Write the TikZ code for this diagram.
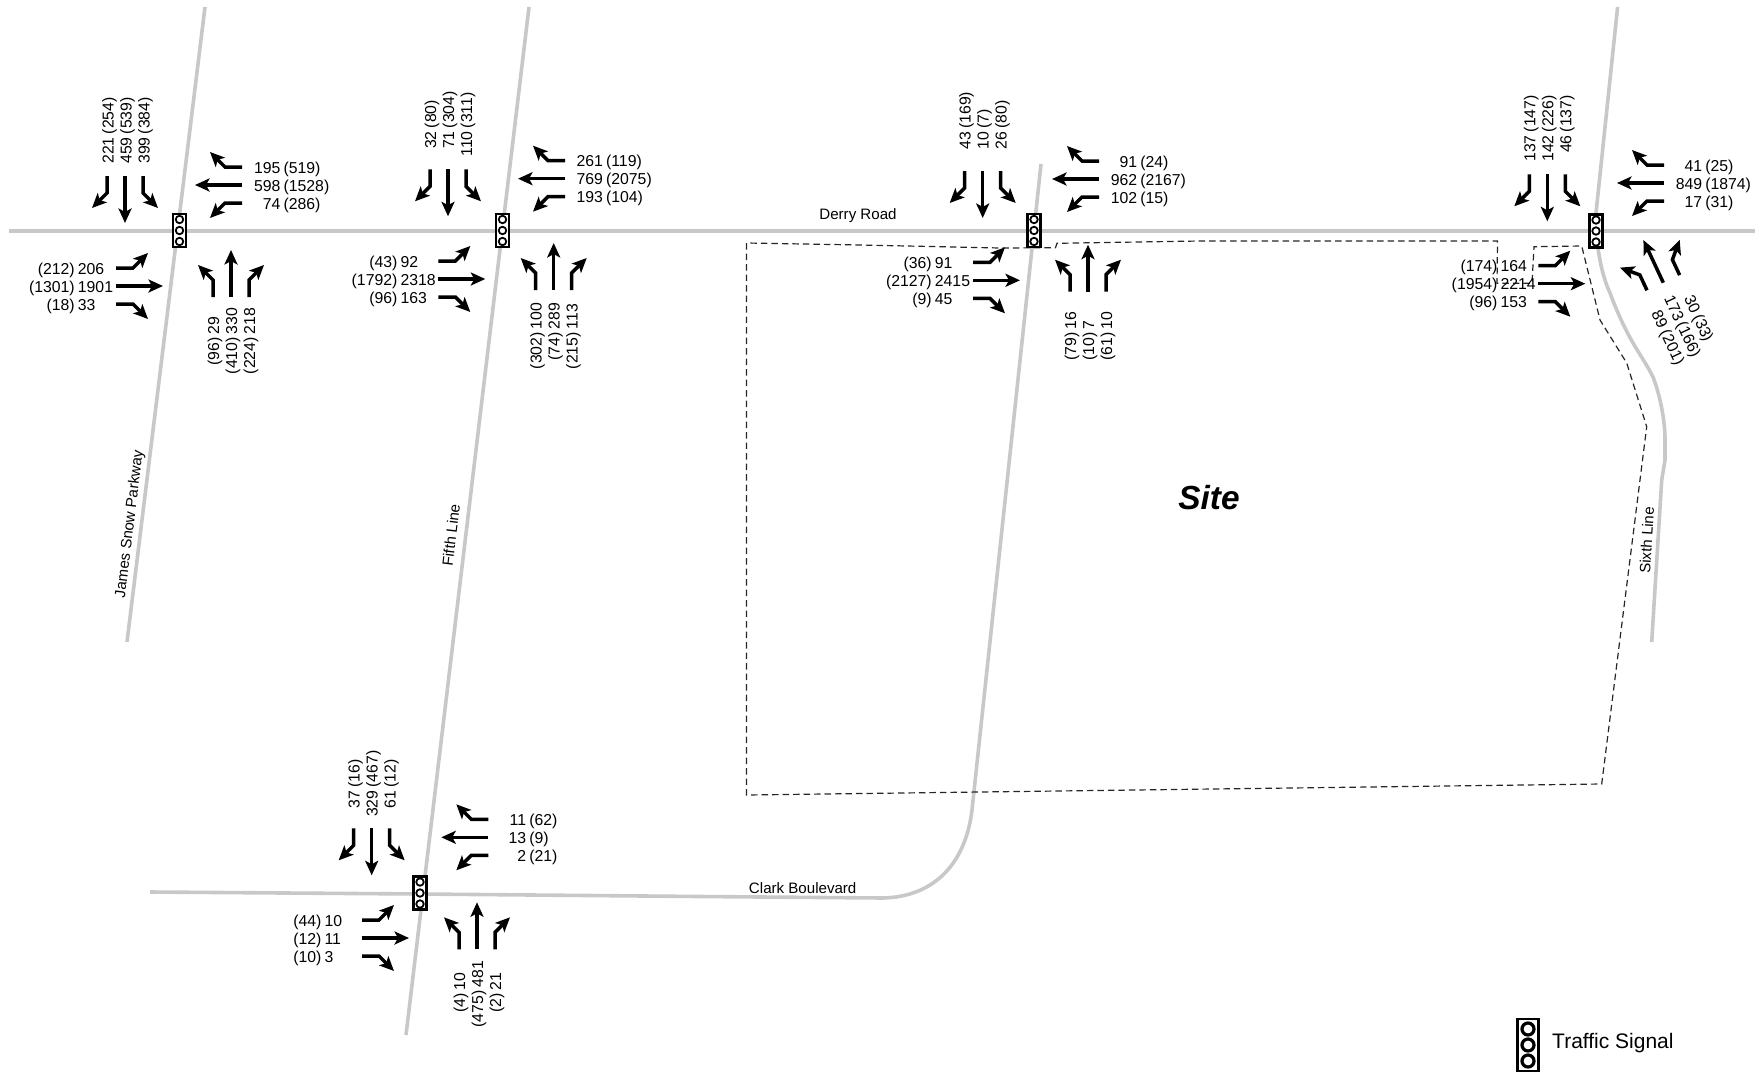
\documentclass[tikz,border=0pt]{standalone}
\usepackage{fontspec}
\setmainfont{Liberation Sans}
\usetikzlibrary{arrows.meta}
\definecolor{roadgray}{RGB}{200,200,200}
\tikzset{
  road/.style={draw=roadgray,line width=3.6pt,line join=round},
  site/.style={draw=black!85,line width=1.2pt,dash pattern=on 6.5pt off 4pt},
  mv/.style={draw=black,line width=3.5pt,line join=miter,-{Stealth[length=14.5pt,width=13pt,inset=3.5pt]}},
  vol/.style={inner sep=0pt,outer sep=0pt,font=\fontsize{15.8}{18}\selectfont},
  rdlabel/.style={inner sep=0pt,font=\fontsize{15.1}{18}\selectfont},
  sigbox/.style={draw=black,fill=white,line width=2.4pt,minimum width=13pt,minimum height=33pt,inner sep=0pt},
  siglamp/.style={circle,draw=black,fill=white,line width=1.8pt,minimum size=7.5pt,inner sep=0pt},
  legbox/.style={draw=black,fill=white,line width=2.6pt,minimum width=21pt,minimum height=52pt,inner sep=0pt},
  leglamp/.style={circle,draw=black,fill=white,line width=3.2pt,minimum size=12pt,inner sep=0pt},
}
\newcounter{labn}
\newcommand\trio[3]{%
  \begin{scope}[shift={(#1,-#2)},rotate=#3]
    \draw[mv] (0,0) -- (0,47);
    \draw[mv] (-18,0) -- (-18,17) -- (-33,32);
    \draw[mv] (18,0) -- (18,17) -- (33,32);
  \end{scope}}
\newcommand\lab[5]{%
  \stepcounter{labn}%
  \begin{scope}[shift={(#1,-#2)},rotate=#3]
    \node[vol,rotate=#3,anchor=base east] (la\thelabn) at (-1.6,-6) {#4};
    \node[vol,rotate=#3,anchor=base west] (lb\thelabn) at (1.6,-6) {#5};
  \end{scope}}
\newcommand\signal[3]{%
  \node[sigbox] (#1) at (#2,-#3) {};
  \node[siglamp] (#1a) at (#2,-#3+11) {};
  \node[siglamp] (#1b) at (#2,-#3) {};
  \node[siglamp] (#1c) at (#2,-#3-11) {};}
\begin{document}
\begin{tikzpicture}[x=1pt,y=1pt]
\useasboundingbox (0,0) rectangle (1759,-1073);
% roads
\draw[road] (9,-231) -- (1755,-231);
\draw[road] (205,-7) -- (127,-642);
\draw[road] (529,-7) -- (406,-1035);
\draw[road] (150,-892) -- (420,-894) -- (700,-896.5) -- (883,-898)
  .. controls (930,-897) and (965,-868) .. (972,-810) -- (1041,-164);
\draw[road] (1617.6,-7) -- (1596,-213) -- (1596.5,-235)
  .. controls (1599,-262) and (1604,-280) .. (1610,-293)
  .. controls (1617,-312) and (1625,-329) .. (1633,-343)
  .. controls (1640,-355) and (1647,-365) .. (1653,-377)
  .. controls (1660,-395) and (1665,-420) .. (1665,-440)
  -- (1665,-460) -- (1661.7,-480) -- (1651.7,-642);
% site boundary
\draw[site] (746.5,-243) -- (746.5,-795) -- (1601.7,-784) -- (1646.7,-426.7)
  -- (1626.7,-363) -- (1600,-320) -- (1581.7,-246) -- (1534,-246.7)
  -- (1532,-283.3) -- (1497,-283.3) -- (1497.5,-241) -- (1200,-241)
  -- (1057,-243.3) -- (1055.5,-247.7) -- (1000,-248) -- (860,-245) -- cycle;
% signals
\signal{s1}{179.5}{230.5}
\signal{s2}{502.5}{230.5}
\signal{s3}{1034}{230.5}
\signal{s4}{1596}{231}
\signal{s5}{420}{893}
% movement arrows
\trio{125}{176}{180}\trio{242}{185}{90}\trio{116}{286}{-90}\trio{231}{297}{0}
\trio{448}{169.3}{180}\trio{565}{178.7}{90}\trio{438.3}{279}{-90}\trio{553.7}{290}{0}
\trio{982.7}{171}{180}\trio{1099}{179}{90}\trio{973}{280.3}{-90}\trio{1088}{291.7}{0}
\trio{1547.3}{174.3}{180}\trio{1664}{183}{90}\trio{1538.3}{283.7}{-90}\trio{1663.3}{282.7}{25}
\trio{371.7}{828.3}{180}\trio{488.3}{837.3}{90}\trio{362}{938}{-90}\trio{477}{949.3}{0}
% intersection 1
\lab{107.5}{135.7}{90}{221}{(254)}\lab{125.5}{135.7}{90}{459}{(539)}\lab{143.5}{135.7}{90}{399}{(384)}
\lab{282}{167.3}{0}{195}{(519)}\lab{282}{185.3}{0}{598}{(1528)}\lab{282}{203.3}{0}{74}{(286)}
\lab{76.3}{268}{0}{(212)}{206}\lab{76.3}{286}{0}{(1301)}{1901}\lab{76.3}{304}{0}{(18)}{33}
\lab{213}{335.7}{90}{(96)}{29}\lab{231}{335.7}{90}{(410)}{330}\lab{249}{335.7}{90}{(224)}{218}
% intersection 2
\lab{430}{129.7}{90}{32}{(80)}\lab{448}{129.7}{90}{71}{(304)}\lab{466}{129.7}{90}{110}{(311)}
\lab{604.5}{160.7}{0}{261}{(119)}\lab{604.5}{178.7}{0}{769}{(2075)}\lab{604.5}{196.7}{0}{193}{(104)}
\lab{399}{261}{0}{(43)}{92}\lab{399}{279}{0}{(1792)}{2318}\lab{399}{297}{0}{(96)}{163}
\lab{535.7}{330.7}{90}{(302)}{100}\lab{553.7}{330.7}{90}{(74)}{289}\lab{571.7}{330.7}{90}{(215)}{113}
% intersection 3
\lab{964.7}{130.3}{90}{43}{(169)}\lab{982.7}{130.3}{90}{10}{(7)}\lab{1000.7}{130.3}{90}{26}{(80)}
\lab{1138.7}{161}{0}{91}{(24)}\lab{1138.7}{179}{0}{962}{(2167)}\lab{1138.7}{197}{0}{102}{(15)}
\lab{933.3}{262.3}{0}{(36)}{91}\lab{933.3}{280.3}{0}{(2127)}{2415}\lab{933.3}{298.3}{0}{(9)}{45}
\lab{1070}{331}{90}{(79)}{16}\lab{1088}{331}{90}{(10)}{7}\lab{1106}{331}{90}{(61)}{10}
% intersection 4
\lab{1529.3}{133.7}{90}{137}{(147)}\lab{1547.3}{133.7}{90}{142}{(226)}\lab{1565.3}{133.7}{90}{46}{(137)}
\lab{1703.7}{165}{0}{41}{(25)}\lab{1703.7}{183}{0}{849}{(1874)}\lab{1703.7}{201}{0}{17}{(31)}
\lab{1499}{265.7}{0}{(174)}{164}\lab{1499}{283.7}{0}{(1954)}{2214}\lab{1499}{301.7}{0}{(96)}{153}
\lab{1697.3}{313.3}{-65}{30}{(33)}\lab{1681}{320.9}{-65}{173}{(166)}\lab{1664.7}{328.5}{-65}{89}{(201)}
% intersection 5
\lab{353.7}{789}{90}{37}{(16)}\lab{371.7}{789}{90}{329}{(467)}\lab{389.7}{789}{90}{61}{(12)}
\lab{527.7}{819.3}{0}{11}{(62)}\lab{527.7}{837.3}{0}{13}{(9)}\lab{527.7}{855.3}{0}{2}{(21)}
\lab{323}{920}{0}{(44)}{10}\lab{323}{938}{0}{(12)}{11}\lab{323}{956}{0}{(10)}{3}
\lab{459}{992}{90}{(4)}{10}\lab{477}{989}{90}{(475)}{481}\lab{495}{992}{90}{(2)}{21}
% road names
\node[rdlabel] (derry) at (858,-215.5) {Derry Road};
\node[rdlabel] (clark) at (802.7,-888.5) {Clark Boulevard};
\node[rdlabel,rotate=83] (james) at (130,-524) {James Snow Parkway};
\node[rdlabel,rotate=83] (fifth) at (451,-535) {Fifth Line};
\node[rdlabel,rotate=86.5] (sixth) at (1646.7,-540) {Sixth Line};
\node[inner sep=0pt,font=\fontsize{33.4}{38}\selectfont\bfseries\itshape] (sitelabel) at (1209,-497.5) {Site};
% legend
\node[legbox] (leg) at (1528,-1045) {};
\node[leglamp] (lega) at (1528,-1029) {};
\node[leglamp] (legb) at (1528,-1045) {};
\node[leglamp] (legc) at (1528,-1061) {};
\node[inner sep=0pt,anchor=west,font=\fontsize{21}{24}\selectfont] (legtext) at (1552,-1043) {Traffic Signal};
\end{tikzpicture}
\end{document}
